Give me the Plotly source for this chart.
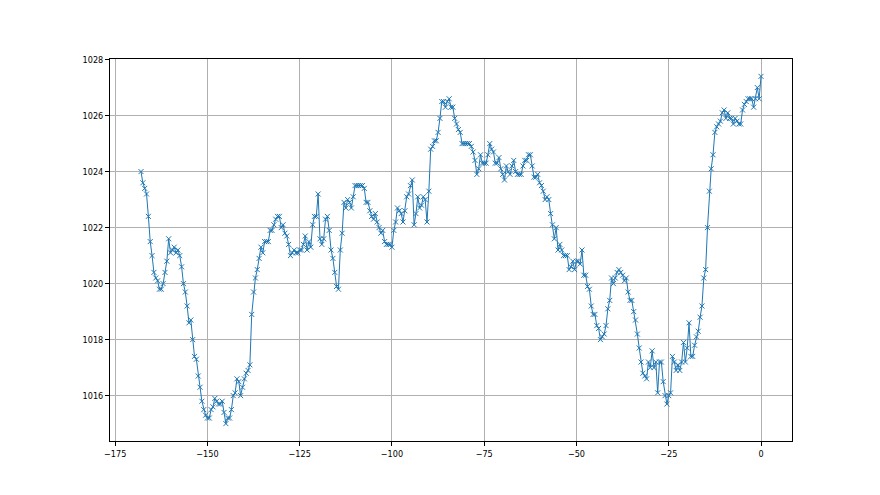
import numpy as np
import plotly.graph_objects as go

# hours relative to now, half-hourly samples
hour_start = -168.0
hour_step = 0.5

pressure_hpa = [
    1024.0, 1023.6, 1023.4, 1023.2, 1022.4, 1021.5, 1021.0, 1020.4, 1020.2, 1020.1,
    1019.8, 1019.8, 1020.0, 1020.4, 1020.8, 1021.6, 1021.1, 1021.2, 1021.3, 1021.1,
    1021.2, 1021.0, 1020.6, 1020.0, 1019.7, 1019.2, 1018.6, 1018.7, 1018.0, 1017.4,
    1017.3, 1016.7, 1016.3, 1015.8, 1015.5, 1015.3, 1015.2, 1015.2, 1015.5, 1015.6,
    1015.9, 1015.8, 1015.7, 1015.7, 1015.8, 1015.4, 1015.0, 1015.2, 1015.2, 1015.5,
    1016.0, 1016.1, 1016.6, 1016.5, 1016.0, 1016.3, 1016.6, 1016.8, 1016.9, 1017.1,
    1018.9, 1019.7, 1020.2, 1020.5, 1020.9, 1021.3, 1021.1, 1021.5, 1021.5, 1021.5,
    1021.9, 1021.9, 1022.1, 1022.3, 1022.4, 1022.4, 1022.0, 1022.1, 1021.8, 1021.7,
    1021.4, 1021.0, 1021.1, 1021.2, 1021.1, 1021.1, 1021.2, 1021.2, 1021.4, 1021.7,
    1021.2, 1021.5, 1021.3, 1022.1, 1022.4, 1022.4, 1023.2, 1021.6, 1021.4, 1021.6,
    1022.3, 1022.4, 1021.9, 1021.2, 1020.9, 1020.4, 1019.9, 1019.8, 1021.2, 1021.8,
    1022.9, 1022.7, 1023.0, 1022.9, 1022.7, 1023.1, 1023.5, 1023.5, 1023.5, 1023.5,
    1023.5, 1023.4, 1022.9, 1022.9, 1022.6, 1022.4, 1022.3, 1022.5, 1022.2, 1022.0,
    1021.8, 1021.9, 1021.5, 1021.4, 1021.4, 1021.4, 1021.3, 1021.9, 1022.2, 1022.7,
    1022.6, 1022.5, 1022.2, 1022.6, 1023.1, 1023.2, 1023.5, 1023.7, 1022.1, 1022.5,
    1023.1, 1022.7, 1022.8, 1023.1, 1023.0, 1022.2, 1023.3, 1024.8, 1024.9, 1025.1,
    1025.1, 1025.4, 1025.9, 1026.5, 1026.5, 1026.3, 1026.5, 1026.6, 1026.3, 1026.3,
    1025.9, 1025.7, 1025.5, 1025.4, 1025.0, 1025.0, 1025.0, 1025.0, 1025.0, 1024.9,
    1024.7, 1024.4, 1023.9, 1024.1, 1024.6, 1024.3, 1024.3, 1024.3, 1024.6, 1025.0,
    1024.8, 1024.7, 1024.3, 1024.3, 1024.5, 1024.1, 1023.9, 1023.7, 1024.2, 1024.0,
    1023.9, 1024.2, 1024.4, 1024.0, 1023.9, 1023.9, 1023.9, 1024.2, 1024.4, 1024.4,
    1024.6, 1024.6, 1024.2, 1023.8, 1023.8, 1023.9, 1023.6, 1023.5, 1023.3, 1023.0,
    1023.1, 1023.0, 1022.5, 1022.1, 1021.6, 1022.0, 1021.2, 1021.4, 1021.2, 1021.0,
    1021.0, 1021.0, 1020.5, 1020.6, 1020.8, 1020.5, 1020.8, 1020.8, 1020.7, 1021.2,
    1020.3, 1020.3, 1019.9, 1019.8, 1019.2, 1018.9, 1018.9, 1018.5, 1018.4, 1018.0,
    1018.1, 1018.2, 1018.5, 1019.1, 1019.4, 1020.2, 1020.0, 1020.2, 1020.4, 1020.5,
    1020.4, 1020.3, 1020.1, 1020.2, 1019.7, 1019.4, 1019.4, 1019.0, 1018.7, 1018.2,
    1017.7, 1017.2, 1016.8, 1016.7, 1016.6, 1017.2, 1017.0, 1017.6, 1017.0, 1017.2,
    1016.1, 1017.2, 1017.2, 1016.5, 1016.0, 1015.7, 1016.0, 1016.1, 1017.4, 1017.2,
    1016.9, 1017.1, 1016.9, 1017.2, 1017.9, 1017.2, 1017.7, 1018.6, 1017.4, 1017.4,
    1017.8, 1018.1, 1018.3, 1018.8, 1019.2, 1020.2, 1020.5, 1022.0, 1023.3, 1024.1,
    1024.6, 1025.4, 1025.6, 1025.7, 1025.8, 1026.1, 1026.2, 1025.9, 1026.1, 1025.9,
    1025.9, 1025.7, 1025.9, 1025.8, 1025.7, 1025.7, 1026.2, 1026.4, 1026.5, 1026.6,
    1026.6, 1026.6, 1026.3, 1026.6, 1027.0, 1026.6, 1027.4,
]

hours = [hour_start + i * hour_step for i in range(len(pressure_hpa))]

x_ticks = [-175, -150, -125, -100, -75, -50, -25, 0]
y_ticks = [1016, 1018, 1020, 1022, 1024, 1026, 1028]

blue = "#1f77b4"
fig = go.Figure()
fig.add_trace(go.Scatter(
    x=hours, y=pressure_hpa, mode="lines+markers",
    line=dict(color=blue, width=1),
    marker=dict(symbol="x-thin", size=5, color=blue, line=dict(color=blue, width=1)),
    showlegend=False,
))

span_x = hours[-1] - hours[0]
span_y = max(pressure_hpa) - min(pressure_hpa)
x_range = [hours[0] - 0.05 * span_x, hours[-1] + 0.05 * span_x]
y_range = [min(pressure_hpa) - 0.05 * span_y, max(pressure_hpa) + 0.05 * span_y]

axis_common = dict(
    showline=True, linecolor="black", linewidth=1, mirror=True,
    ticks="outside", ticklen=4, tickcolor="black", tickwidth=1,
    showgrid=True, gridcolor="#b0b0b0", gridwidth=0.8,
    zeroline=False,
    tickfont=dict(family="DejaVu Sans Condensed, DejaVu Sans", size=9, color="black"),
)

# page body has an 8px default margin, so the figure is offset by 8px
fig.update_layout(
    width=872, height=487,
    margin=dict(l=102, r=88, t=51, b=54),
    paper_bgcolor="white", plot_bgcolor="white",
    xaxis=dict(range=x_range, tickvals=x_ticks, ticktext=[str(t).replace("-", "\u2212") for t in x_ticks], **axis_common),
    yaxis=dict(range=y_range, tickvals=y_ticks, **axis_common),
)

fig.write_html("out.html")
